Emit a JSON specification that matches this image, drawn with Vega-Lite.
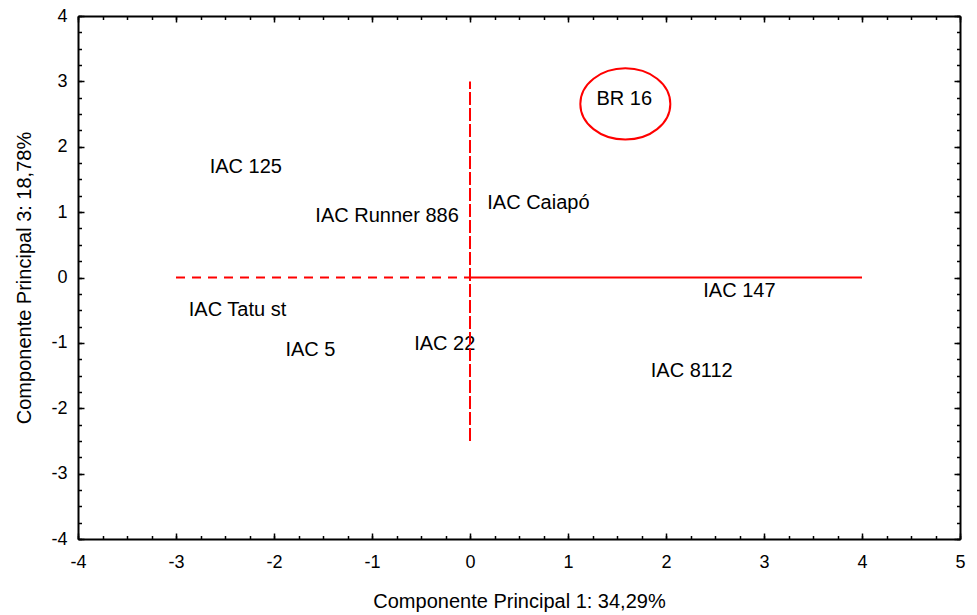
{
  "$schema": "https://vega.github.io/schema/vega-lite/v6.json",
  "width": 882,
  "height": 523,
  "autosize": {"type": "none"},
  "padding": {"left": 78, "top": 16, "right": 17, "bottom": 76},
  "background": "white",
  "config": {
    "view": {"stroke": null},
    "font": "Liberation Sans",
    "axis": {
      "grid": false,
      "labelFont": "Liberation Sans",
      "titleFont": "Liberation Sans",
      "labelFontSize": 18,
      "titleFontSize": 20,
      "titleFontWeight": "normal",
      "labelColor": "black",
      "titleColor": "black",
      "domainColor": "black",
      "tickColor": "black",
      "labelFlush": false,
      "labelOverlap": false
    }
  },
  "datasets": {
    "labels": [
      {"name": "IAC 125", "x": -2.656, "y": 1.718},
      {"name": "IAC Runner 886", "x": -1.578, "y": 0.968},
      {"name": "IAC Caiapó", "x": 0.176, "y": 1.166},
      {"name": "BR 16", "x": 1.29, "y": 2.754},
      {"name": "IAC 147", "x": 2.38, "y": -0.18},
      {"name": "IAC Tatu st", "x": -2.87, "y": -0.48},
      {"name": "IAC 5", "x": -1.883, "y": -1.08},
      {"name": "IAC 22", "x": -0.57, "y": -0.99},
      {"name": "IAC 8112", "x": 1.845, "y": -1.405}
    ],
    "lines": [
      {"part": "left", "x1": -3, "x2": 0, "y1": 0, "y2": 0},
      {"part": "right", "x1": 0, "x2": 4, "y1": 0, "y2": 0},
      {"part": "vert", "x1": 0, "x2": 0, "y1": -2.5, "y2": 3}
    ],
    "highlight": [
      {"x": 1.585, "y": 2.655}
    ]
  },
  "layer": [
    {
      "data": {"name": "labels"},
      "mark": {"type": "text", "align": "left", "baseline": "middle", "dy": 1.5, "fontSize": 20, "font": "Liberation Sans", "color": "black"},
      "encoding": {
        "x": {"field": "x", "type": "quantitative", "scale": {"domain": [-4, 5], "nice": false, "zero": false},
          "axis": {"orient": "bottom", "values": [-4, -3, -2, -1, 0, 1, 2, 3, 4, 5], "labelExpr": "datum.value < 0 ? '-' + abs(datum.value) : '' + datum.value", "ticks": false, "labelPadding": 14, "domainWidth": 2, "title": "Componente Principal 1: 34,29%", "titlePadding": 20}},
        "y": {"field": "y", "type": "quantitative", "scale": {"domain": [-4, 4], "nice": false, "zero": false},
          "axis": {"orient": "left", "values": [-4, -3, -2, -1, 0, 1, 2, 3, 4], "labelExpr": "datum.value < 0 ? '-' + abs(datum.value) : '' + datum.value", "ticks": false, "labelPadding": 11, "domainWidth": 2, "title": "Componente Principal 3: 18,78%", "titlePadding": 16}},
        "text": {"field": "name"}
      }
    },
    {
      "data": {"name": "lines"},
      "transform": [{"filter": "datum.part === 'right'"}],
      "mark": {"type": "rule", "color": "#ff0000", "strokeWidth": 2},
      "encoding": {
        "x": {"field": "x1", "type": "quantitative", "scale": {"domain": [-4, 5], "nice": false, "zero": false},
          "axis": {"orient": "bottom", "values": [-4, -3, -2, -1, 0, 1, 2, 3, 4, 5], "labels": false, "domain": false, "tickSize": -6, "tickWidth": 1.5, "title": null}},
        "x2": {"field": "x2"},
        "y": {"field": "y1", "type": "quantitative", "scale": {"domain": [-4, 4], "nice": false, "zero": false},
          "axis": {"orient": "left", "values": [-4, -3, -2, -1, 0, 1, 2, 3, 4], "labels": false, "domain": false, "tickSize": -6, "tickWidth": 1.5, "title": null}},
        "y2": {"field": "y2"}
      }
    },
    {
      "data": {"name": "lines"},
      "transform": [{"filter": "datum.part === 'left'"}],
      "mark": {"type": "rule", "color": "#ff0000", "strokeWidth": 2, "strokeDash": [9, 7]},
      "encoding": {
        "x": {"field": "x1", "type": "quantitative", "scale": {"domain": [-4, 5], "nice": false, "zero": false},
          "axis": {"orient": "bottom", "values": [-4, -3.75, -3.5, -3.25, -3, -2.75, -2.5, -2.25, -2, -1.75, -1.5, -1.25, -1, -0.75, -0.5, -0.25, 0, 0.25, 0.5, 0.75, 1, 1.25, 1.5, 1.75, 2, 2.25, 2.5, 2.75, 3, 3.25, 3.5, 3.75, 4, 4.25, 4.5, 4.75, 5], "labels": false, "domain": false, "tickSize": -3.5, "tickWidth": 1.5, "title": null}},
        "x2": {"field": "x2"},
        "y": {"field": "y1", "type": "quantitative", "scale": {"domain": [-4, 4], "nice": false, "zero": false},
          "axis": {"orient": "left", "values": [-4, -3.75, -3.5, -3.25, -3, -2.75, -2.5, -2.25, -2, -1.75, -1.5, -1.25, -1, -0.75, -0.5, -0.25, 0, 0.25, 0.5, 0.75, 1, 1.25, 1.5, 1.75, 2, 2.25, 2.5, 2.75, 3, 3.25, 3.5, 3.75, 4], "labels": false, "domain": false, "tickSize": -3.5, "tickWidth": 1.5, "title": null}},
        "y2": {"field": "y2"}
      }
    },
    {
      "data": {"name": "lines"},
      "transform": [{"filter": "datum.part === 'vert'"}],
      "mark": {"type": "rule", "color": "#ff0000", "strokeWidth": 2, "strokeDash": [13, 3]},
      "encoding": {
        "x": {"field": "x1", "type": "quantitative", "scale": {"domain": [-4, 5], "nice": false, "zero": false},
          "axis": {"orient": "top", "values": [-4, -3, -2, -1, 0, 1, 2, 3, 4, 5], "labels": false, "domainWidth": 2, "tickSize": -6, "tickWidth": 1.5, "title": null}},
        "x2": {"field": "x2"},
        "y": {"field": "y1", "type": "quantitative", "scale": {"domain": [-4, 4], "nice": false, "zero": false},
          "axis": {"orient": "right", "values": [-4, -3, -2, -1, 0, 1, 2, 3, 4], "labels": false, "domainWidth": 2, "tickSize": -6, "tickWidth": 1.5, "title": null}},
        "y2": {"field": "y2"}
      }
    },
    {
      "data": {"name": "highlight"},
      "mark": {"type": "point", "filled": false, "color": "#ff0000", "strokeWidth": 2, "opacity": 1, "size": 8100, "shape": "M-1,0A1,0.792,0,1,0,1,0A1,0.792,0,1,0,-1,0Z"},
      "encoding": {
        "x": {"field": "x", "type": "quantitative", "scale": {"domain": [-4, 5], "nice": false, "zero": false},
          "axis": {"orient": "top", "values": [-4, -3.75, -3.5, -3.25, -3, -2.75, -2.5, -2.25, -2, -1.75, -1.5, -1.25, -1, -0.75, -0.5, -0.25, 0, 0.25, 0.5, 0.75, 1, 1.25, 1.5, 1.75, 2, 2.25, 2.5, 2.75, 3, 3.25, 3.5, 3.75, 4, 4.25, 4.5, 4.75, 5], "labels": false, "domain": false, "tickSize": -3.5, "tickWidth": 1.5, "title": null}},
        "y": {"field": "y", "type": "quantitative", "scale": {"domain": [-4, 4], "nice": false, "zero": false},
          "axis": {"orient": "right", "values": [-4, -3.75, -3.5, -3.25, -3, -2.75, -2.5, -2.25, -2, -1.75, -1.5, -1.25, -1, -0.75, -0.5, -0.25, 0, 0.25, 0.5, 0.75, 1, 1.25, 1.5, 1.75, 2, 2.25, 2.5, 2.75, 3, 3.25, 3.5, 3.75, 4], "labels": false, "domain": false, "tickSize": -3.5, "tickWidth": 1.5, "title": null}}
      }
    }
  ],
  "resolve": {"axis": {"x": "independent", "y": "independent"}}
}
